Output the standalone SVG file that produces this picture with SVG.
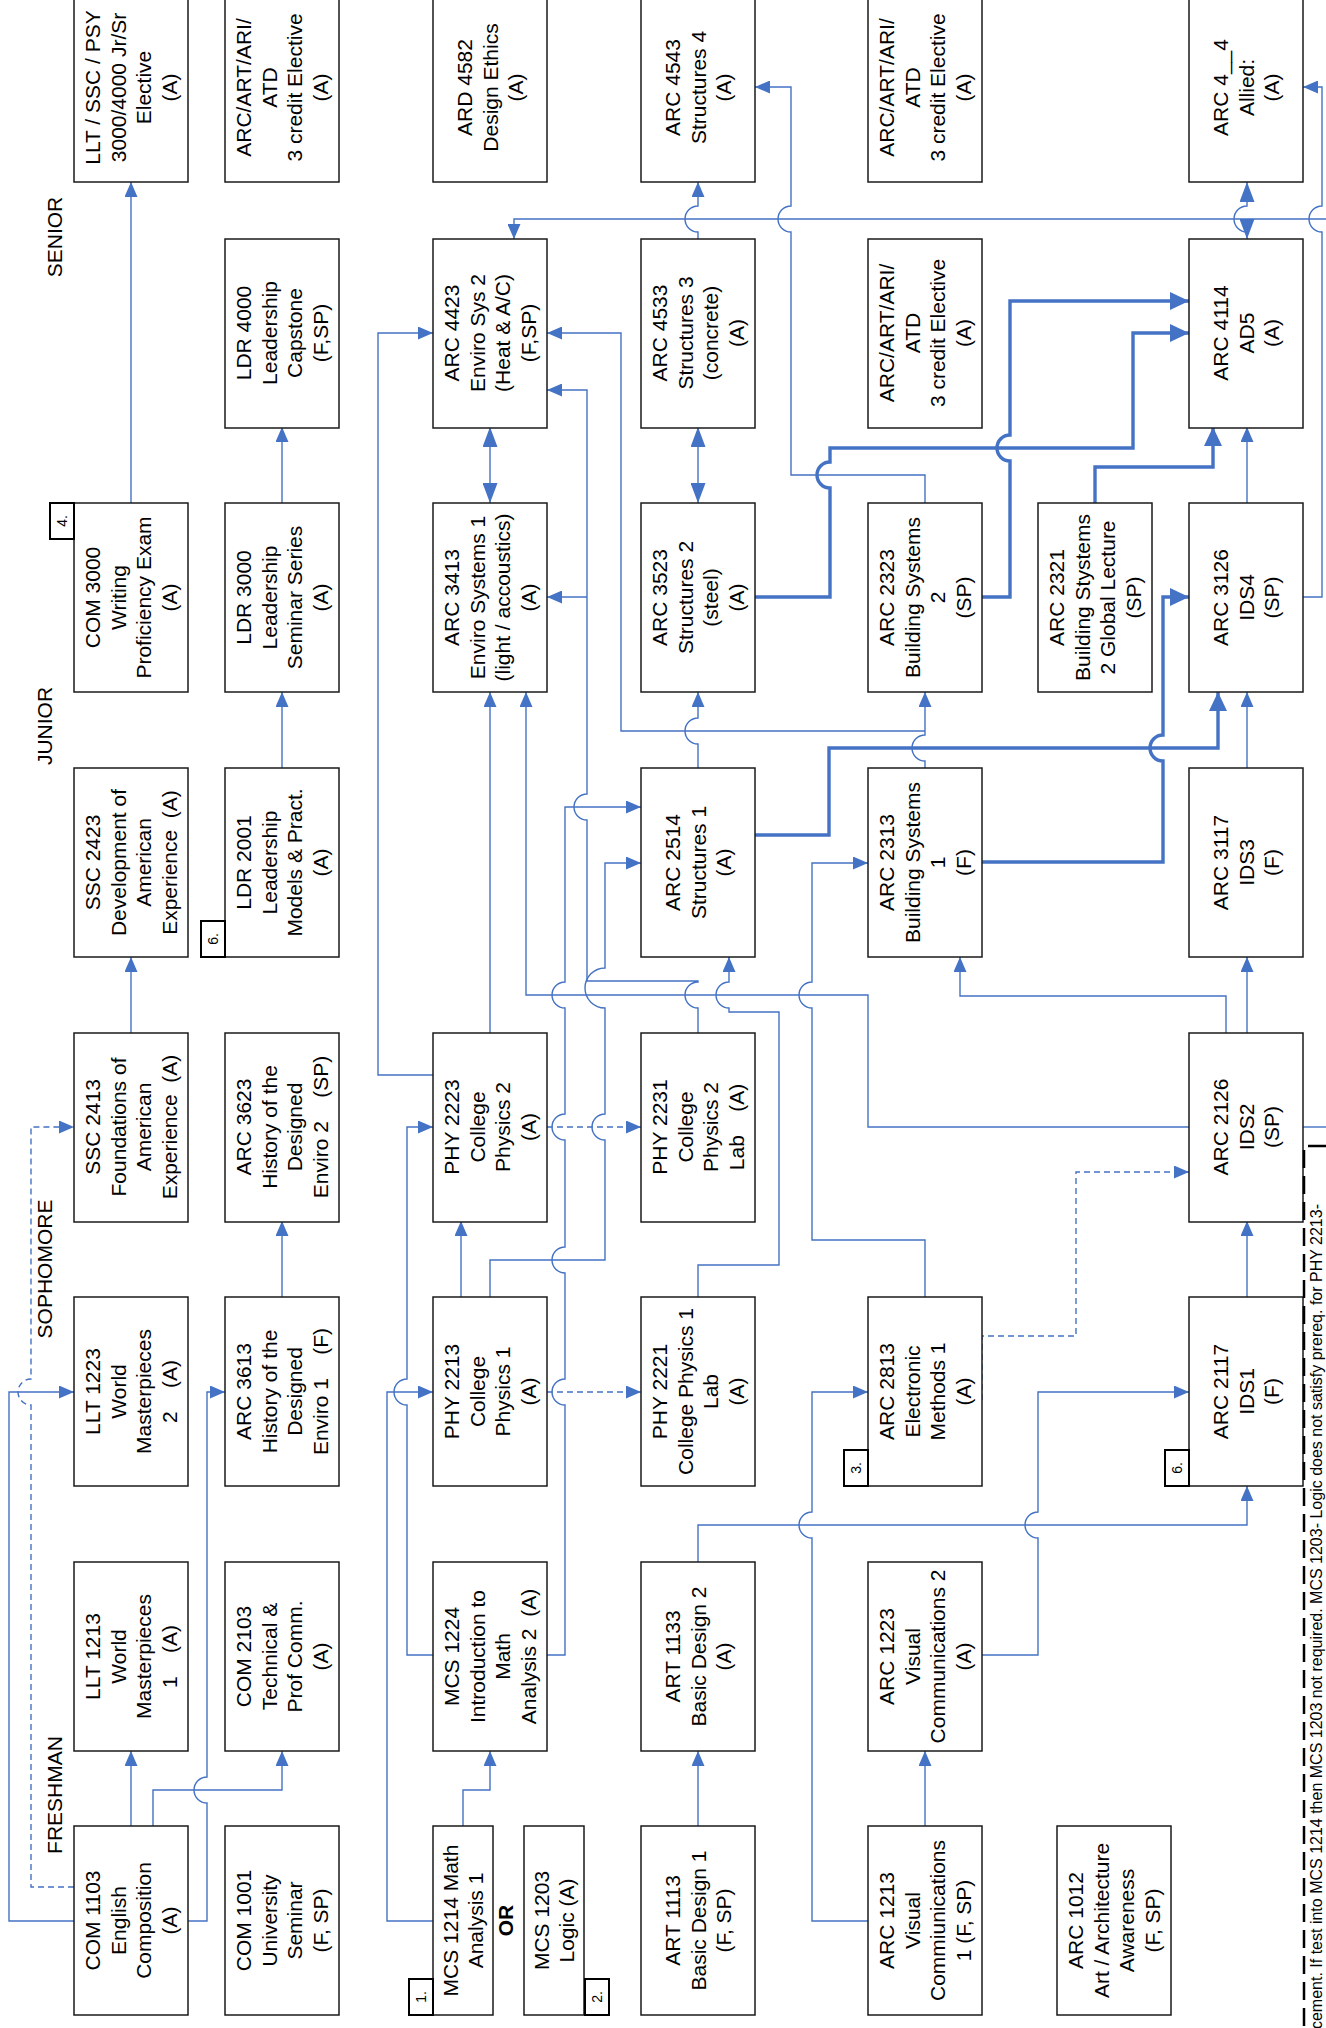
<svg xmlns="http://www.w3.org/2000/svg" width="1326" height="2028" viewBox="0 0 1326 2028">
<defs>
<style>
.b{fill:#fff;stroke:#1a1a1a;stroke-width:1.5}
.t{font-family:"Liberation Sans",Arial,sans-serif;font-size:21px;fill:#000;text-anchor:middle}
.c{fill:none;stroke:#4472C4;stroke-width:1.4}
.k{stroke-width:3.4}
.d{stroke-dasharray:6 4}
.e{marker-end:url(#a)}
.ek{marker-end:url(#ak)}
.dd{marker-end:url(#ad);marker-start:url(#ad)}
.tag{fill:#fff;stroke:#000;stroke-width:2}
.tt{font-size:14px}
.yr{font-family:"Liberation Sans",Arial,sans-serif;font-size:21px;fill:#000}
.note{font-family:"Liberation Sans",Arial,sans-serif;font-size:16px;fill:#000;text-anchor:end}
</style>
<marker id="a" viewBox="0 0 15 13" refX="15" refY="6.5" markerWidth="15" markerHeight="13" markerUnits="userSpaceOnUse" orient="auto"><path d="M0,0L15,6.5L0,13z" fill="#4472C4"/></marker>
<marker id="ak" viewBox="0 0 19 18" refX="19" refY="9" markerWidth="19" markerHeight="18" markerUnits="userSpaceOnUse" orient="auto"><path d="M0,0L19,9L0,18z" fill="#4472C4"/></marker>
<marker id="ad" viewBox="0 0 20 15" refX="20" refY="7.5" markerWidth="20" markerHeight="15" markerUnits="userSpaceOnUse" orient="auto-start-reverse"><path d="M0,0L20,7.5L0,15z" fill="#4472C4"/></marker>
</defs>
<rect width="1326" height="2028" fill="#fff"/>

<g id="labels">
<text class="yr" transform="translate(62,237) rotate(-90)" text-anchor="middle">SENIOR</text>
<text class="yr" transform="translate(52,726) rotate(-90)" text-anchor="middle">JUNIOR</text>
<text class="yr" transform="translate(52,1269) rotate(-90)" text-anchor="middle">SOPHOMORE</text>
<text class="yr" transform="translate(62,1795) rotate(-90)" text-anchor="middle">FRESHMAN</text>
</g>

<g id="connectors">
<path class="c e" d="M131,503V182"/>
<path class="c e" d="M282,503V427"/>
<path class="c e" d="M282,768V692"/>
<path class="c e" d="M131,1033V957"/>
<path class="c e" d="M282,1297V1221"/>
<path class="c e" d="M131,1826V1751"/>
<path class="c e" d="M153,1826V1790H282V1751"/>
<path class="c e" d="M188,1921H207V1803A13,13 0 0 1 207,1777V1392H225"/>
<path class="c e" d="M74,1921H9V1392H74"/>
<path class="c d e" d="M74,1887H31V1405A13,13 0 0 1 31,1379V1127H74"/>
<path class="c e" d="M433,1075H378V333H433"/>
<path class="c e" d="M433,1655H407V1405A13,13 0 0 1 407,1379V1127H433"/>
<path class="c e" d="M433,1921H387V1392H433"/>
<path class="c e" d="M463,1826V1790H490V1751"/>
<path class="c e" d="M461,1297V1221"/>
<path class="c e" d="M490,1297V1260H605V1140A13,13 0 0 1 605,1114V1008A20,20 0 0 1 605,968V863H641"/>
<path class="c d e" d="M547,1127H641"/>
<path class="c d e" d="M547,1392H641"/>
<path class="c e" d="M547,1655H565V1405A13,13 0 0 1 565,1379V1273A13,13 0 0 1 565,1247V1140A13,13 0 0 1 565,1114V1008A13,13 0 0 1 565,982V807H641"/>
<path class="c e" d="M490,1033V692"/>
<path class="c dd" d="M490,503V427"/>
<path class="c e" d="M1189,1127H868V995H526V692"/>
<path class="c e" d="M698,1033V1008A13,13 0 0 1 698,982V981H587V820A13,13 0 0 1 587,794V390H547"/>
<path class="c e" d="M587,597H547"/>
<path class="c e" d="M698,1297V1265H779V1012H729V1008A13,13 0 0 1 729,982V957"/>
<path class="c e" d="M698,768V744A13,13 0 0 1 698,718V692"/>
<path class="c dd" d="M698,503V427"/>
<path class="c e" d="M698,239V232A13,13 0 0 1 698,206V182"/>
<path class="c e" d="M925,1297V1240H812V1008A13,13 0 0 1 812,982V863H868"/>
<path class="c e" d="M868,1921H812V1538A13,13 0 0 1 812,1512V1392H868"/>
<path class="c e" d="M698,1826V1751"/>
<path class="c e" d="M698,1562V1525H1247V1486"/>
<path class="c e" d="M925,1826V1751"/>
<path class="c e" d="M982,1655H1038V1538A13,13 0 0 1 1038,1512V1392H1189"/>
<path class="c d e" d="M982,1400V1336H1076V1172H1189"/>
<path class="c e" d="M1247,1297V1221"/>
<path class="c e" d="M1247,1033V957"/>
<path class="c e" d="M1226,1033V996H960V957"/>
<path class="c e" d="M1247,768V692"/>
<path class="c e" d="M1247,503V427"/>
<path class="c dd" d="M1247,239V232A13,13 0 0 1 1247,206V182"/>
<path class="c" d="M1303,1127H1326"/>
<path class="c e" d="M1303,597H1322V232A13,13 0 0 1 1322,206V87H1303"/>
<path class="c e" d="M1326,219H514V239"/>
<path class="c e" d="M925,768V761A13,13 0 0 1 925,735V692"/>
<path class="c e" d="M925,731H621V333H547"/>
<path class="c e" d="M925,503V475H791V232A13,13 0 0 1 791,206V87H755"/>
<path class="c k ek" d="M982,597H1010V461A13,13 0 0 1 1010,435V301H1189"/>
<path class="c k ek" d="M755,597H830V488A13,13 0 0 1 830,462V448H1133V333H1189"/>
<path class="c k ek" d="M1095,503V467H1213V427"/>
<path class="c k ek" d="M755,835H829V748H1218V692"/>
<path class="c k ek" d="M982,862H1163V761A13,13 0 0 1 1163,735V597H1189"/>
</g>

<g id="n-llt-sr"><rect class="b" x="74" y="-7" width="114" height="189"/><text class="t" transform="translate(131,87.5) rotate(-90)"><tspan x="0" y="-30.6">LLT / SSC / PSY</tspan><tspan x="0" y="-5.2">3000/4000 Jr/Sr</tspan><tspan x="0" y="20.2">Elective</tspan><tspan x="0" y="45.6">(A)</tspan></text></g>
<g id="n-elec1"><rect class="b" x="225" y="-7" width="114" height="189"/><text class="t" transform="translate(282,87.5) rotate(-90)"><tspan x="0" y="-30.6">ARC/ART/ARI/</tspan><tspan x="0" y="-5.2">ATD</tspan><tspan x="0" y="20.2">3 credit Elective</tspan><tspan x="0" y="45.6">(A)</tspan></text></g>
<g id="n-ard4582"><rect class="b" x="433" y="-7" width="114" height="189"/><text class="t" transform="translate(490,87.5) rotate(-90)"><tspan x="0" y="-17.9">ARD 4582</tspan><tspan x="0" y="7.5">Design Ethics</tspan><tspan x="0" y="32.9">(A)</tspan></text></g>
<g id="n-arc4543"><rect class="b" x="641" y="-7" width="114" height="189"/><text class="t" transform="translate(698,87.5) rotate(-90)"><tspan x="0" y="-17.9">ARC 4543</tspan><tspan x="0" y="7.5">Structures 4</tspan><tspan x="0" y="32.9">(A)</tspan></text></g>
<g id="n-elec2"><rect class="b" x="868" y="-7" width="114" height="189"/><text class="t" transform="translate(925,87.5) rotate(-90)"><tspan x="0" y="-30.6">ARC/ART/ARI/</tspan><tspan x="0" y="-5.2">ATD</tspan><tspan x="0" y="20.2">3 credit Elective</tspan><tspan x="0" y="45.6">(A)</tspan></text></g>
<g id="n-arc4x4"><rect class="b" x="1189" y="-7" width="114" height="189"/><text class="t" transform="translate(1246,87.5) rotate(-90)"><tspan x="0" y="-17.9">ARC 4__4</tspan><tspan x="0" y="7.5">Allied:</tspan><tspan x="0" y="32.9">(A)</tspan></text></g>

<g id="n-ldr4000"><rect class="b" x="225" y="239" width="114" height="189"/><text class="t" transform="translate(282,333) rotate(-90)"><tspan x="0" y="-30.6">LDR 4000</tspan><tspan x="0" y="-5.2">Leadership</tspan><tspan x="0" y="20.2">Capstone</tspan><tspan x="0" y="45.6">(F,SP)</tspan></text></g>
<g id="n-arc4423"><rect class="b" x="433" y="239" width="114" height="189"/><text class="t" transform="translate(490,333) rotate(-90)"><tspan x="0" y="-30.6">ARC 4423</tspan><tspan x="0" y="-5.2">Enviro Sys 2</tspan><tspan x="0" y="20.2">(Heat &amp; A/C)</tspan><tspan x="0" y="45.6">(F,SP)</tspan></text></g>
<g id="n-arc4533"><rect class="b" x="641" y="239" width="114" height="189"/><text class="t" transform="translate(698,333) rotate(-90)"><tspan x="0" y="-30.6">ARC 4533</tspan><tspan x="0" y="-5.2">Structures 3</tspan><tspan x="0" y="20.2">(concrete)</tspan><tspan x="0" y="45.6">(A)</tspan></text></g>
<g id="n-elec3"><rect class="b" x="868" y="239" width="114" height="189"/><text class="t" transform="translate(925,333) rotate(-90)"><tspan x="0" y="-30.6">ARC/ART/ARI/</tspan><tspan x="0" y="-5.2">ATD</tspan><tspan x="0" y="20.2">3 credit Elective</tspan><tspan x="0" y="45.6">(A)</tspan></text></g>
<g id="n-arc4114"><rect class="b" x="1189" y="239" width="114" height="189"/><text class="t" transform="translate(1246,333) rotate(-90)"><tspan x="0" y="-17.9">ARC 4114</tspan><tspan x="0" y="7.5">AD5</tspan><tspan x="0" y="32.9">(A)</tspan></text></g>

<g id="n-com3000"><rect class="b" x="74" y="503" width="114" height="189"/><text class="t" transform="translate(131,597.5) rotate(-90)"><tspan x="0" y="-30.6">COM 3000</tspan><tspan x="0" y="-5.2">Writing</tspan><tspan x="0" y="20.2">Proficiency Exam</tspan><tspan x="0" y="45.6">(A)</tspan></text><rect class="tag" x="50" y="503" width="24" height="36"/><text class="t tt" transform="translate(62,521) rotate(-90)" y="5">4.</text></g>
<g id="n-ldr3000"><rect class="b" x="225" y="503" width="114" height="189"/><text class="t" transform="translate(282,597.5) rotate(-90)"><tspan x="0" y="-30.6">LDR 3000</tspan><tspan x="0" y="-5.2">Leadership</tspan><tspan x="0" y="20.2">Seminar Series</tspan><tspan x="0" y="45.6">(A)</tspan></text></g>
<g id="n-arc3413"><rect class="b" x="433" y="503" width="114" height="189"/><text class="t" transform="translate(490,597.5) rotate(-90)"><tspan x="0" y="-30.6">ARC 3413</tspan><tspan x="0" y="-5.2">Enviro Systems 1</tspan><tspan x="0" y="20.2">(light / accoustics)</tspan><tspan x="0" y="45.6">(A)</tspan></text></g>
<g id="n-arc3523"><rect class="b" x="641" y="503" width="114" height="189"/><text class="t" transform="translate(698,597.5) rotate(-90)"><tspan x="0" y="-30.6">ARC 3523</tspan><tspan x="0" y="-5.2">Structures 2</tspan><tspan x="0" y="20.2">(steel)</tspan><tspan x="0" y="45.6">(A)</tspan></text></g>
<g id="n-arc2323"><rect class="b" x="868" y="503" width="114" height="189"/><text class="t" transform="translate(925,597.5) rotate(-90)"><tspan x="0" y="-30.6">ARC 2323</tspan><tspan x="0" y="-5.2">Building Systems</tspan><tspan x="0" y="20.2">2</tspan><tspan x="0" y="45.6">(SP)</tspan></text></g>
<g id="n-arc2321"><rect class="b" x="1038" y="503" width="114" height="189"/><text class="t" transform="translate(1095,597.5) rotate(-90)"><tspan x="0" y="-30.6">ARC 2321</tspan><tspan x="0" y="-5.2">Building Stystems</tspan><tspan x="0" y="20.2">2 Global Lecture</tspan><tspan x="0" y="45.6">(SP)</tspan></text></g>
<g id="n-arc3126"><rect class="b" x="1189" y="503" width="114" height="189"/><text class="t" transform="translate(1246,597.5) rotate(-90)"><tspan x="0" y="-17.9">ARC 3126</tspan><tspan x="0" y="7.5">IDS4</tspan><tspan x="0" y="32.9">(SP)</tspan></text></g>

<g id="n-ssc2423"><rect class="b" x="74" y="768" width="114" height="189"/><text class="t" xml:space="preserve" transform="translate(131,862.5) rotate(-90)"><tspan x="0" y="-30.6">SSC 2423</tspan><tspan x="0" y="-5.2">Development of</tspan><tspan x="0" y="20.2">American</tspan><tspan x="0" y="45.6">Experience  (A)</tspan></text></g>
<g id="n-ldr2001"><rect class="b" x="225" y="768" width="114" height="189"/><text class="t" transform="translate(282,862.5) rotate(-90)"><tspan x="0" y="-30.6">LDR 2001</tspan><tspan x="0" y="-5.2">Leadership</tspan><tspan x="0" y="20.2">Models &amp; Pract.</tspan><tspan x="0" y="45.6">(A)</tspan></text><rect class="tag" x="201" y="921" width="24" height="36"/><text class="t tt" transform="translate(213,939) rotate(-90)" y="5">6.</text></g>
<g id="n-arc2514"><rect class="b" x="641" y="768" width="114" height="189"/><text class="t" transform="translate(698,862.5) rotate(-90)"><tspan x="0" y="-17.9">ARC 2514</tspan><tspan x="0" y="7.5">Structures 1</tspan><tspan x="0" y="32.9">(A)</tspan></text></g>
<g id="n-arc2313"><rect class="b" x="868" y="768" width="114" height="189"/><text class="t" transform="translate(925,862.5) rotate(-90)"><tspan x="0" y="-30.6">ARC 2313</tspan><tspan x="0" y="-5.2">Building Systems</tspan><tspan x="0" y="20.2">1</tspan><tspan x="0" y="45.6">(F)</tspan></text></g>
<g id="n-arc3117"><rect class="b" x="1189" y="768" width="114" height="189"/><text class="t" transform="translate(1246,862.5) rotate(-90)"><tspan x="0" y="-17.9">ARC 3117</tspan><tspan x="0" y="7.5">IDS3</tspan><tspan x="0" y="32.9">(F)</tspan></text></g>

<g id="n-ssc2413"><rect class="b" x="74" y="1033" width="114" height="189"/><text class="t" xml:space="preserve" transform="translate(131,1127) rotate(-90)"><tspan x="0" y="-30.6">SSC 2413</tspan><tspan x="0" y="-5.2">Foundations of</tspan><tspan x="0" y="20.2">American</tspan><tspan x="0" y="45.6">Experience  (A)</tspan></text></g>
<g id="n-arc3623"><rect class="b" x="225" y="1033" width="114" height="189"/><text class="t" xml:space="preserve" transform="translate(282,1127) rotate(-90)"><tspan x="0" y="-30.6">ARC 3623</tspan><tspan x="0" y="-5.2">History of the</tspan><tspan x="0" y="20.2">Designed</tspan><tspan x="0" y="45.6">Enviro 2    (SP)</tspan></text></g>
<g id="n-phy2223"><rect class="b" x="433" y="1033" width="114" height="189"/><text class="t" transform="translate(490,1127) rotate(-90)"><tspan x="0" y="-30.6">PHY 2223</tspan><tspan x="0" y="-5.2">College</tspan><tspan x="0" y="20.2">Physics 2</tspan><tspan x="0" y="45.6">(A)</tspan></text></g>
<g id="n-phy2231"><rect class="b" x="641" y="1033" width="114" height="189"/><text class="t" xml:space="preserve" transform="translate(698,1127) rotate(-90)"><tspan x="0" y="-30.6">PHY 2231</tspan><tspan x="0" y="-5.2">College</tspan><tspan x="0" y="20.2">Physics 2</tspan><tspan x="0" y="45.6">Lab    (A)</tspan></text></g>
<g id="n-arc2126"><rect class="b" x="1189" y="1033" width="114" height="189"/><text class="t" transform="translate(1246,1127) rotate(-90)"><tspan x="0" y="-17.9">ARC 2126</tspan><tspan x="0" y="7.5">IDS2</tspan><tspan x="0" y="32.9">(SP)</tspan></text></g>

<g id="n-llt1223"><rect class="b" x="74" y="1297" width="114" height="189"/><text class="t" xml:space="preserve" transform="translate(131,1391.5) rotate(-90)"><tspan x="0" y="-30.6">LLT 1223</tspan><tspan x="0" y="-5.2">World</tspan><tspan x="0" y="20.2">Masterpieces</tspan><tspan x="0" y="45.6">2    (A)</tspan></text></g>
<g id="n-arc3613"><rect class="b" x="225" y="1297" width="114" height="189"/><text class="t" xml:space="preserve" transform="translate(282,1391.5) rotate(-90)"><tspan x="0" y="-30.6">ARC 3613</tspan><tspan x="0" y="-5.2">History of the</tspan><tspan x="0" y="20.2">Designed</tspan><tspan x="0" y="45.6">Enviro 1    (F)</tspan></text></g>
<g id="n-phy2213"><rect class="b" x="433" y="1297" width="114" height="189"/><text class="t" transform="translate(490,1391.5) rotate(-90)"><tspan x="0" y="-30.6">PHY 2213</tspan><tspan x="0" y="-5.2">College</tspan><tspan x="0" y="20.2">Physics 1</tspan><tspan x="0" y="45.6">(A)</tspan></text></g>
<g id="n-phy2221"><rect class="b" x="641" y="1297" width="114" height="189"/><text class="t" transform="translate(698,1391.5) rotate(-90)"><tspan x="0" y="-30.6">PHY 2221</tspan><tspan x="0" y="-5.2">College Physics 1</tspan><tspan x="0" y="20.2">Lab</tspan><tspan x="0" y="45.6">(A)</tspan></text></g>
<g id="n-arc2813"><rect class="b" x="868" y="1297" width="114" height="189"/><text class="t" transform="translate(925,1391.5) rotate(-90)"><tspan x="0" y="-30.6">ARC 2813</tspan><tspan x="0" y="-5.2">Electronic</tspan><tspan x="0" y="20.2">Methods 1</tspan><tspan x="0" y="45.6">(A)</tspan></text><rect class="tag" x="844" y="1450" width="24" height="36"/><text class="t tt" transform="translate(856,1468) rotate(-90)" y="5">3.</text></g>
<g id="n-arc2117"><rect class="b" x="1189" y="1297" width="114" height="189"/><text class="t" transform="translate(1246,1391.5) rotate(-90)"><tspan x="0" y="-17.9">ARC 2117</tspan><tspan x="0" y="7.5">IDS1</tspan><tspan x="0" y="32.9">(F)</tspan></text><rect class="tag" x="1165" y="1450" width="24" height="36"/><text class="t tt" transform="translate(1177,1468) rotate(-90)" y="5">6.</text></g>

<g id="n-llt1213"><rect class="b" x="74" y="1562" width="114" height="189"/><text class="t" xml:space="preserve" transform="translate(131,1656.5) rotate(-90)"><tspan x="0" y="-30.6">LLT 1213</tspan><tspan x="0" y="-5.2">World</tspan><tspan x="0" y="20.2">Masterpieces</tspan><tspan x="0" y="45.6">1    (A)</tspan></text></g>
<g id="n-com2103"><rect class="b" x="225" y="1562" width="114" height="189"/><text class="t" transform="translate(282,1656.5) rotate(-90)"><tspan x="0" y="-30.6">COM 2103</tspan><tspan x="0" y="-5.2">Technical &amp;</tspan><tspan x="0" y="20.2">Prof Comm.</tspan><tspan x="0" y="45.6">(A)</tspan></text></g>
<g id="n-mcs1224"><rect class="b" x="433" y="1562" width="114" height="189"/><text class="t" xml:space="preserve" transform="translate(490,1656.5) rotate(-90)"><tspan x="0" y="-30.6">MCS 1224</tspan><tspan x="0" y="-5.2">Introduction to</tspan><tspan x="0" y="20.2">Math</tspan><tspan x="0" y="45.6">Analysis 2  (A)</tspan></text></g>
<g id="n-art1133"><rect class="b" x="641" y="1562" width="114" height="189"/><text class="t" transform="translate(698,1656.5) rotate(-90)"><tspan x="0" y="-17.9">ART 1133</tspan><tspan x="0" y="7.5">Basic Design 2</tspan><tspan x="0" y="32.9">(A)</tspan></text></g>
<g id="n-arc1223"><rect class="b" x="868" y="1562" width="114" height="189"/><text class="t" transform="translate(925,1656.5) rotate(-90)"><tspan x="0" y="-30.6">ARC 1223</tspan><tspan x="0" y="-5.2">Visual</tspan><tspan x="0" y="20.2">Communications 2</tspan><tspan x="0" y="45.6">(A)</tspan></text></g>

<g id="n-com1103"><rect class="b" x="74" y="1826" width="114" height="189"/><text class="t" transform="translate(131,1920.5) rotate(-90)"><tspan x="0" y="-30.6">COM 1103</tspan><tspan x="0" y="-5.2">English</tspan><tspan x="0" y="20.2">Composition</tspan><tspan x="0" y="45.6">(A)</tspan></text></g>
<g id="n-com1001"><rect class="b" x="225" y="1826" width="114" height="189"/><text class="t" transform="translate(282,1920.5) rotate(-90)"><tspan x="0" y="-30.6">COM 1001</tspan><tspan x="0" y="-5.2">University</tspan><tspan x="0" y="20.2">Seminar</tspan><tspan x="0" y="45.6">(F, SP)</tspan></text></g>
<g id="n-mcs1214"><rect class="b" x="433" y="1826" width="60" height="189"/><text class="t" transform="translate(463,1920.5) rotate(-90)"><tspan x="0" y="-5.2">MCS 1214 Math</tspan><tspan x="0" y="20.2">Analysis 1</tspan></text><rect class="tag" x="409" y="1979" width="24" height="36"/><text class="t tt" transform="translate(421,1997) rotate(-90)" y="5">1.</text></g>
<g id="n-or"><text class="t" font-weight="bold" transform="translate(505,1920.5) rotate(-90)" y="7.5">OR</text></g>
<g id="n-mcs1203"><rect class="b" x="524" y="1826" width="60" height="189"/><text class="t" transform="translate(554,1920.5) rotate(-90)"><tspan x="0" y="-5.2">MCS 1203</tspan><tspan x="0" y="20.2">Logic (A)</tspan></text><rect class="tag" x="585" y="1979" width="24" height="36"/><text class="t tt" transform="translate(597,1997) rotate(-90)" y="5">2.</text></g>
<g id="n-art1113"><rect class="b" x="641" y="1826" width="114" height="189"/><text class="t" transform="translate(698,1920.5) rotate(-90)"><tspan x="0" y="-17.9">ART 1113</tspan><tspan x="0" y="7.5">Basic Design 1</tspan><tspan x="0" y="32.9">(F, SP)</tspan></text></g>
<g id="n-arc1213"><rect class="b" x="868" y="1826" width="114" height="189"/><text class="t" transform="translate(925,1920.5) rotate(-90)"><tspan x="0" y="-30.6">ARC 1213</tspan><tspan x="0" y="-5.2">Visual</tspan><tspan x="0" y="20.2">Commiunications</tspan><tspan x="0" y="45.6">1 (F, SP)</tspan></text></g>
<g id="n-arc1012"><rect class="b" x="1057" y="1826" width="114" height="189"/><text class="t" transform="translate(1114,1920.5) rotate(-90)"><tspan x="0" y="-30.6">ARC 1012</tspan><tspan x="0" y="-5.2">Art / Architecture</tspan><tspan x="0" y="20.2">Awareness</tspan><tspan x="0" y="45.6">(F, SP)</tspan></text></g>

<g id="note">
<path d="M1326,1146H1304V2028" fill="none" stroke="#000" stroke-width="2.5" stroke-dasharray="18 8"/>
<text class="note" transform="translate(1322,1204) rotate(-90)">acement. If test into MCS 1214 then MCS 1203 not required. MCS 1203- Logic does not satisfy prereq. for PHY 2213-</text>
</g>
</svg>
